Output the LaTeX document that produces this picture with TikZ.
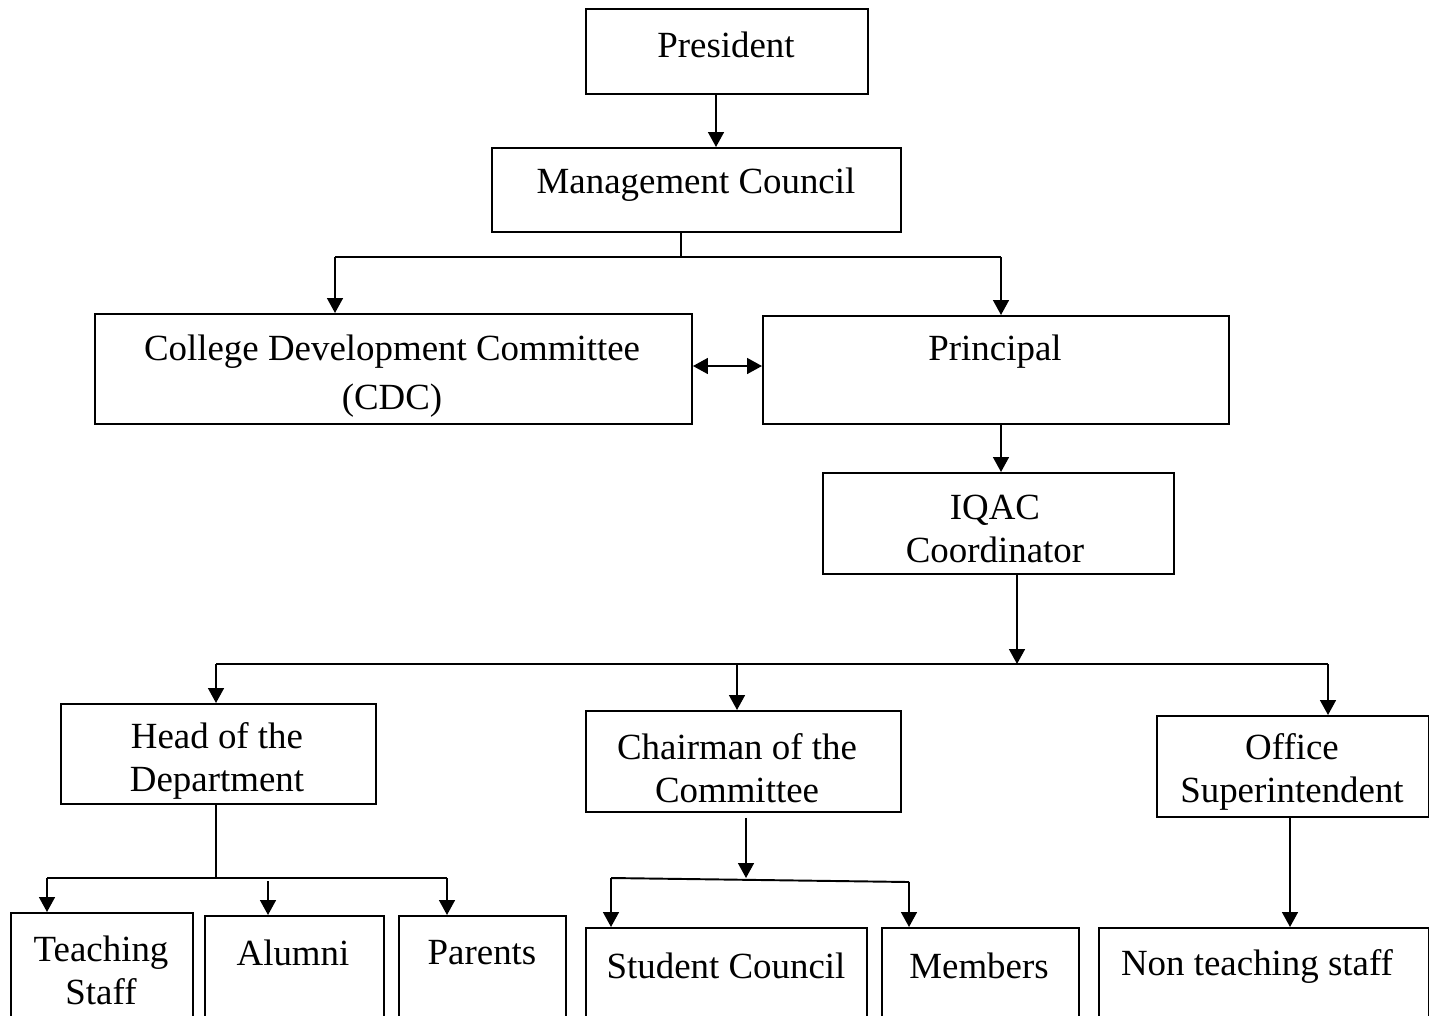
\documentclass[tikz,border=0pt]{standalone}
\usepackage{fontspec}
\setmainfont{Liberation Serif}
\usetikzlibrary{arrows.meta}
\begin{document}
\begin{tikzpicture}[x=0.02cm,y=-0.02cm,
  box/.style={draw, line width=1.1pt, inner sep=0pt, anchor=north west},
  lbl/.style={inner sep=0pt, align=center, font=\fontsize{21}{24.5}\selectfont},
  conn/.style={line width=1.1pt},
  arr/.style={line width=1.1pt, -{Triangle[length=8.5pt,width=9pt]}},
  darr/.style={line width=1.1pt, {Triangle[length=8.5pt,width=9pt]}-{Triangle[length=8.5pt,width=9pt]}}]
\useasboundingbox (0,0) rectangle (1429,1015);
% boxes
\node[box, minimum width=282*0.02cm, minimum height=85*0.02cm] (pres) at (585,8) {};
\node[box, minimum width=409*0.02cm, minimum height=84*0.02cm] (mc) at (491,147) {};
\node[box, minimum width=597*0.02cm, minimum height=110*0.02cm] (cdc) at (94,313) {};
\node[box, minimum width=466*0.02cm, minimum height=108*0.02cm] (prin) at (762,315) {};
\node[box, minimum width=351*0.02cm, minimum height=101*0.02cm] (iqac) at (822,472) {};
\node[box, minimum width=315*0.02cm, minimum height=100*0.02cm] (hod) at (60,703) {};
\node[box, minimum width=315*0.02cm, minimum height=101*0.02cm] (chair) at (585,710) {};
\node[box, minimum width=272*0.02cm, minimum height=101*0.02cm] (off) at (1156,715) {};
\node[box, minimum width=182*0.02cm, minimum height=140*0.02cm] (ts) at (10,912) {};
\node[box, minimum width=179*0.02cm, minimum height=140*0.02cm] (alum) at (204,915) {};
\node[box, minimum width=167*0.02cm, minimum height=140*0.02cm] (par) at (398,915) {};
\node[box, minimum width=281*0.02cm, minimum height=140*0.02cm] (stu) at (585,927) {};
\node[box, minimum width=197*0.02cm, minimum height=140*0.02cm] (mem) at (881,927) {};
\node[box, minimum width=330*0.02cm, minimum height=140*0.02cm] (nts) at (1098,927) {};
% labels
\node[lbl] (pres-t) at (726,45) {President};
\node[lbl] (mc-t) at (696,185) {Management Council};
\node[lbl] (cdc-t) at (392,376) {College Development Committee\\[3pt](CDC)};
\node[lbl] (prin-t) at (995,352) {Principal};
\node[lbl] (iqac-t) at (995,529) {IQAC\\Coordinator};
\node[lbl] (hod-t) at (217,761) {Head of the\\Department};
\node[lbl] (chair-t) at (737,768) {Chairman of the\\Committee};
\node[lbl] (off-t) at (1292,772) {Office\\Superintendent};
\node[lbl] (ts-t) at (101,970) {Teaching\\Staff};
\node[lbl] (alum-t) at (293,953) {Alumni};
\node[lbl] (par-t) at (482,953) {Parents};
\node[lbl] (stu-t) at (726,966) {Student Council};
\node[lbl] (mem-t) at (979,966) {Members};
\node[lbl] (nts-t) at (1257,966) {Non teaching staff};
% junction coordinates
\coordinate (c1) at (716,0);
\coordinate (c2) at (681,257);
\coordinate (c2l) at (335,257);
\coordinate (c2r) at (1001,257);
\coordinate (c3) at (1001,0);
\coordinate (c4) at (1017,664);
\coordinate (c4l) at (216,664);
\coordinate (c4m) at (737,664);
\coordinate (c4r) at (1328,664);
\coordinate (c5) at (216,878);
\coordinate (c5l) at (47,878);
\coordinate (c5m) at (268,881);
\coordinate (c5r) at (447,878);
\coordinate (c6) at (746,878);
\coordinate (c6l) at (611,878);
\coordinate (c6r) at (909,882);
\coordinate (c7) at (1290,0);
% connectors
\draw[arr] (c1 |- pres.south) -- (c1 |- mc.north);
\draw[conn] (c2 |- mc.south) -- (c2);
\draw[conn] (c2l) -- (c2r);
\draw[arr] (c2l) -- (c2l |- cdc.north);
\draw[arr] (c2r) -- (c2r |- prin.north);
\draw[darr] (cdc.east |- 0,366) -- (prin.west |- 0,366);
\draw[arr] (c3 |- prin.south) -- (c3 |- iqac.north);
\draw[arr] (c4 |- iqac.south) -- (c4);
\draw[conn] (c4l) -- (c4r);
\draw[arr] (c4l) -- (c4l |- hod.north);
\draw[arr] (c4m) -- (c4m |- chair.north);
\draw[arr] (c4r) -- (c4r |- off.north);
\draw[conn] (c5 |- hod.south) -- (c5);
\draw[conn] (c5l) -- (c5r);
\draw[arr] (c5l) -- (c5l |- ts.north);
\draw[arr] (c5m) -- (c5m |- alum.north);
\draw[arr] (c5r) -- (c5r |- par.north);
\draw[arr] ([yshift=-0.1cm]c6 |- chair.south) -- (c6);
\draw[conn] (c6l) -- (c6r);
\draw[arr] (c6l) -- (c6l |- stu.north);
\draw[arr] (c6r) -- (c6r |- mem.north);
\draw[arr] (c7 |- off.south) -- (c7 |- nts.north);
\end{tikzpicture}
\end{document}
